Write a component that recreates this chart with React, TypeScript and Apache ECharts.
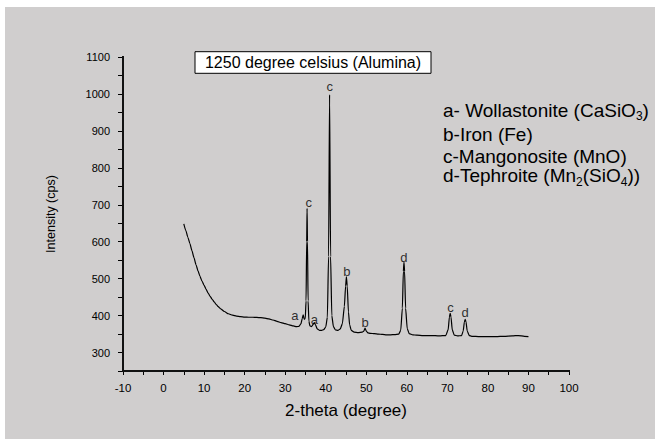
import React, { useEffect, useRef } from "react";
import * as echarts from "echarts";

const twoTheta = [
  5.0, 5.5, 6.0, 6.5, 7.0, 7.5, 8.0, 8.5, 9.0, 9.5, 10.0, 10.5, 11.0, 11.5, 12.0, 12.5, 13.0, 13.5, 14.0,
  15.0, 16.0, 17.0, 18.0, 19.0, 20.0, 21.0, 22.0, 23.0, 24.0, 25.0, 26.0, 27.0, 28.0, 29.0, 30.0, 31.0,
  32.0, 32.8, 33.4, 33.9, 34.2, 34.45, 34.7, 34.95, 35.15, 35.3, 35.4, 35.5, 35.65, 35.85, 36.1, 36.5,
  36.9, 37.2, 37.5, 37.9, 38.5, 39.0, 39.5, 40.0, 40.4, 40.7, 40.95, 41.2, 41.5, 41.9, 42.4, 43.0, 43.6,
  44.1, 44.6, 44.9, 45.1, 45.3, 45.6, 45.9, 46.3, 47.0, 48.0, 49.0, 49.4, 49.7, 50.0, 50.4, 51.0, 52.0,
  53.0, 54.0, 55.0, 56.0, 57.0, 58.0, 58.5, 58.9, 59.15, 59.3, 59.45, 59.7, 60.1, 60.6, 61.5, 62.5, 64.0,
  66.0, 68.0, 69.6, 70.2, 70.5, 70.7, 70.9, 71.2, 71.7, 72.5, 73.5, 73.9, 74.2, 74.4, 74.6, 74.9, 75.4,
  76.0, 78.0, 80.0, 82.0, 84.0, 86.0, 87.5, 89.0, 90.0,
];
const intensity = [
  648, 630, 612, 595, 576, 557, 538, 521, 506, 493, 482, 471, 461, 452, 444, 437, 430, 424, 419,
  411, 405, 401, 398.5, 397, 396, 395.5, 395.5, 395, 394.5, 393, 391, 388, 384.5, 381, 378, 375,
  372, 370, 371, 378, 392, 402, 390, 392, 440, 600, 690, 600, 440, 385, 372, 370,
  376, 381, 374, 364, 360, 360, 362, 369, 395, 560, 998, 560, 400, 370, 361, 360, 364,
  378, 425, 480, 505, 480, 410, 375, 360, 355, 354, 355, 358, 366, 358, 353, 352, 351,
  350, 349, 348, 348, 348.5, 350, 360, 420, 520, 545, 520, 420, 365, 351, 348, 347, 346,
  346, 345, 346, 362, 396, 406, 396, 362, 347, 345, 346, 358, 383, 390, 383, 358, 346,
  344, 343, 343, 343, 344, 345, 346, 344, 343,
];

const peakLabelText = ["a", "c", "a", "c", "b", "b", "d", "c", "d"];
const peakLabelX = [32.4, 35.8, 37.2, 41.0, 45.2, 49.7, 59.3, 70.8, 74.4];
const peakLabelY = [400, 705, 389, 1020, 518, 381, 556, 422, 409];

const xMajorTicks = [-10, 0, 10, 20, 30, 40, 50, 60, 70, 80, 90, 100];
const yMajorTicks = [300, 400, 500, 600, 700, 800, 900, 1000, 1100];
const X_MIN = -10;
const X_MAX = 100;
const Y_MIN = 250;
const Y_MAX = 1100;

const titleText = "1250 degree celsius (Alumina)";
const legendLines = [
  "a- Wollastonite (CaSiO{s|3})",
  "b-Iron (Fe)",
  "c-Mangonosite (MnO)",
  "d-Tephroite (Mn{s|2}(SiO{s|4}))",
];

const FONT = "'Liberation Sans', Arial, Helvetica, sans-serif";

export default function App() {
  const ref = useRef<HTMLDivElement>(null);
  useEffect(() => {
    if (!ref.current) return;
    const chart = echarts.init(ref.current, null, { renderer: "svg" });
    const lineData = twoTheta.map((x, i) => [x, intensity[i]]);
    const labelData = peakLabelText.map((t, i) => ({ name: t, value: [peakLabelX[i], peakLabelY[i]] }));
    const legendTop = [110, 134.3, 156, 175.7];
    chart.setOption({
      animation: false,
      backgroundColor: "transparent",
      textStyle: { fontFamily: FONT },
      grid: { left: 123, right: 86, top: 57, bottom: 68 },
      xAxis: {
        type: "value",
        min: X_MIN,
        max: X_MAX,
        interval: 5,
        name: "2-theta (degree)",
        nameLocation: "middle",
        nameGap: 31,
        nameTextStyle: { fontSize: 17, color: "#000", fontFamily: FONT },
        axisLine: { show: true, onZero: false, lineStyle: { color: "#111", width: 2, opacity: 1 } },
        axisTick: { show: true, inside: false, length: 4, lineStyle: { color: "#000", width: 1 } },
        axisLabel: {
          fontSize: 11.5,
          color: "#000",
          margin: 11,
          customValues: xMajorTicks,
          fontFamily: FONT,
          formatter: (v: number) => String(v),
        },
        splitLine: { show: false },
      },
      yAxis: {
        type: "value",
        min: Y_MIN,
        max: Y_MAX,
        interval: 50,
        name: "Intensity (cps)",
        nameLocation: "middle",
        nameGap: 66,
        nameTextStyle: { fontSize: 12.5, color: "#000", fontFamily: FONT },
        axisLine: { show: true, onZero: false, lineStyle: { color: "#111", width: 2, opacity: 1 } },
        axisTick: { show: true, inside: false, length: 5, lineStyle: { color: "#000", width: 1 } },
        axisLabel: {
          fontSize: 11,
          color: "#000",
          margin: 13,
          customValues: yMajorTicks,
          fontFamily: FONT,
          formatter: (v: number) => String(v),
        },
        splitLine: { show: false },
      },
      series: [
        {
          type: "line",
          data: lineData,
          showSymbol: false,
          symbol: "none",
          smooth: 0.2,
          smoothMonotone: "x",
          lineStyle: { color: "#000", width: 1.2 },
          z: 3,
        },
        {
          type: "scatter",
          data: labelData,
          symbolSize: 1,
          itemStyle: { color: "rgba(0,0,0,0)" },
          label: {
            show: true,
            position: [0.5, 0.5],
            align: "center",
            verticalAlign: "middle",
            formatter: "{b}",
            fontSize: 13,
            color: "#000",
            fontFamily: FONT,
          },
          z: 4,
        },
      ],
    });

    const origin = chart.convertToPixel({ gridIndex: 0 }, [X_MIN, Y_MIN]) as number[];
    const xEnd = chart.convertToPixel({ gridIndex: 0 }, [X_MAX, Y_MIN]) as number[];
    const yEnd = chart.convertToPixel({ gridIndex: 0 }, [X_MIN, Y_MAX]) as number[];
    const ox = Number.isFinite(origin?.[0]) ? origin[0] : 123;
    const oy = Number.isFinite(origin?.[1]) ? origin[1] : 371;
    const xr = Number.isFinite(xEnd?.[0]) ? xEnd[0] : 569;
    const yt = Number.isFinite(yEnd?.[1]) ? yEnd[1] : 57;

    chart.setOption({
      graphic: [
        {
          type: "rect",
          shape: { x: ox - 1, y: oy - 1, width: xr - ox + 2, height: 2 },
          style: { fill: "#111" },
          z: 20,
        },
        {
          type: "rect",
          shape: { x: ox - 1, y: yt - 1, width: 2, height: oy - yt + 2 },
          style: { fill: "#111" },
          z: 20,
        },
        {
          type: "rect",
          shape: { x: 195, y: 51.7, width: 236, height: 21.6 },
          style: { fill: "#fff", stroke: "#000", lineWidth: 1 },
          z: 10,
        },
        {
          type: "text",
          x: 313,
          y: 62.5,
          style: {
            text: titleText,
            fontSize: 16,
            fontFamily: FONT,
            fill: "#000",
            align: "center",
            verticalAlign: "middle",
          },
          z: 11,
        },
        ...legendLines.map((t, i) => ({
          type: "text",
          x: 443,
          y: legendTop[i],
          style: {
            text: t,
            fontSize: 19,
            fontFamily: FONT,
            fill: "#000",
            align: "left",
            verticalAlign: "middle",
            rich: {
              s: { fontSize: 12, fontFamily: FONT, fill: "#000", padding: [12, 0, 0, 0] },
            },
          },
          z: 11,
        })),
      ],
    });
    return () => chart.dispose();
  }, []);

  return (
    <div style={{ position: "fixed", left: 0, top: 0, width: 655, height: 439, background: "#fff" }}>
      <div style={{ position: "absolute", left: 5, top: 7, width: 650, height: 432, background: "#d0cece" }} />
      <div ref={ref} style={{ position: "absolute", left: 0, top: 0, width: 655, height: 439 }} />
    </div>
  );
}
